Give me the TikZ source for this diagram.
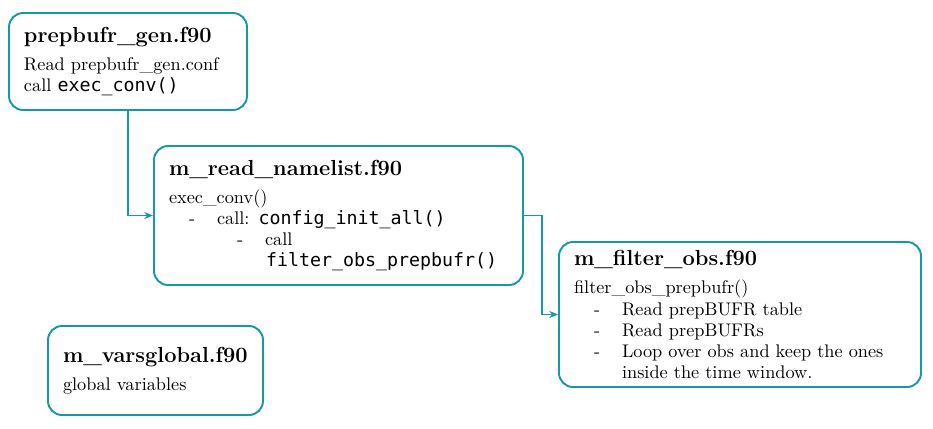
\documentclass[tikz,border=0pt]{standalone}
\usepackage{fontspec}
\setmonofont{DejaVu Sans Mono}
\usetikzlibrary{arrows.meta, positioning}
\definecolor{boxteal}{RGB}{22,152,166}
\newcommand{\fitem}[2][0.4cm]{\hspace*{#1}\makebox[0.56cm][l]{-}#2}
\newcommand{\ftitle}[1]{{\fontsize{12.4}{14}\selectfont\bfseries #1}\\[4pt]}

\begin{document}
\begin{tikzpicture}[
		module/.style={
			rectangle,
			draw=boxteal,
			line width=1.1pt,
			rounded corners=8pt,
			align=left,
			inner xsep=0.3cm,
			font=\fontsize{10.4}{12}\selectfont
		},
		arrow/.style={
			-{Stealth[length=5pt, width=4pt]},
			line width=1.1pt,
			draw=boxteal
		}
		]
		
		\useasboundingbox (0,0) rectangle (18.66,8.56);
		
		% Main nodes
		\node (gen) [module, text width=4.16cm, minimum height=1.94cm] at (2.56,7.33)
			{\ftitle{prepbufr\_gen.f90}Read prepbufr\_gen.conf\\ call \texttt{exec\_conv()}};
		\node (namelist) [module, text width=6.78cm, minimum height=2.78cm] at (6.77,4.25)
			{\ftitle{m\_read\_namelist.f90}exec\_conv()\\
			\fitem{call: \texttt{config\_init\_all()}}\\
			\fitem[1.36cm]{call}\\
			\hspace*{1.94cm}\texttt{filter\_obs\_prepbufr()}};
		\node (filter) [module, text width=6.64cm, minimum height=2.9cm] at (14.8,2.27)
			{\ftitle{m\_filter\_obs.f90}filter\_obs\_prepbufr()\\
			\fitem{Read prepBUFR table}\\
			\fitem{Read prepBUFRs}\\
			\fitem{Loop over obs and keep the ones}\\
			\hspace*{0.96cm}inside the time window.};
		\node (vars) [module, text width=3.7cm, minimum height=1.78cm] at (3.11,1.15)
			{\ftitle{m\_varsglobal.f90}global variables};
		
		% Connection arrows
		\draw [arrow] (gen.south) |- (namelist.west);
		\draw [arrow] (namelist.east) -- ++(0.36,0) |- (filter.west);
		
	\end{tikzpicture}
\end{document}
